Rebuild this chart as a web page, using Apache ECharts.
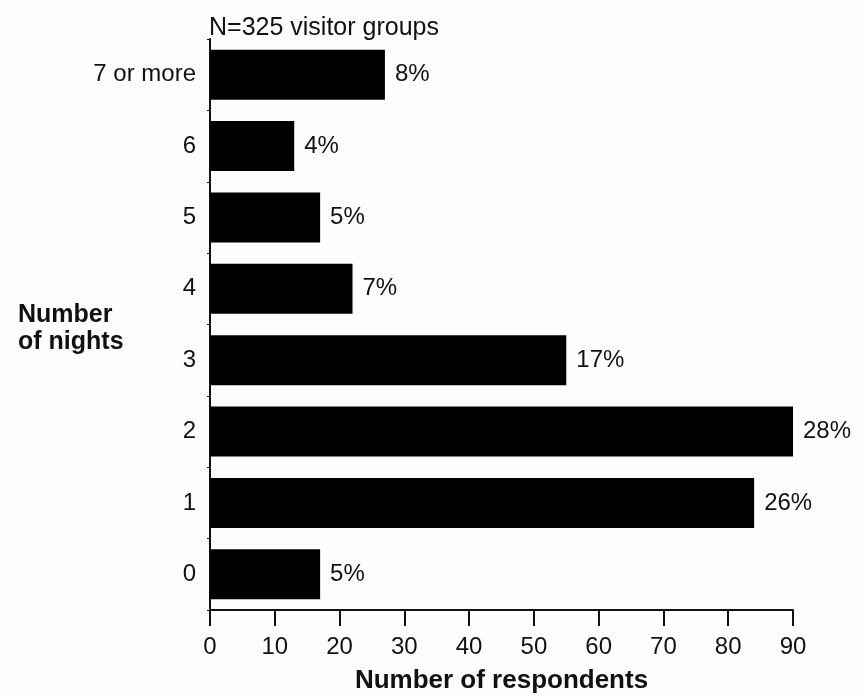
<!DOCTYPE html>
<html>
<head>
<meta charset="utf-8">
<script src="https://cdn.jsdelivr.net/npm/echarts@6/dist/echarts.min.js"></script>
<style>
  html, body { margin: 0; padding: 0; background: #fdfdfd; }
  #chart { width: 866px; height: 699px; }
</style>
</head>
<body>
<div id="chart"></div>
<script>
  // nights per trip, bottom to top
  const nights = ["0", "1", "2", "3", "4", "5", "6", "7 or more"];
  const respondents = [17, 84, 90, 55, 22, 17, 13, 27];
  const percents = ["5%", "26%", "28%", "17%", "7%", "5%", "4%", "8%"];
  const xTicks = [0, 90, 10]; // min, max, interval

  const FONT = "Liberation Sans, Arial, sans-serif";
  const chart = echarts.init(document.getElementById("chart"));

  chart.setOption({
    backgroundColor: "#fdfdfd",
    animation: false,
    title: [
      {
        text: "N=325 visitor groups",
        left: 204, top: 11,
        textStyle: { fontFamily: FONT, fontSize: 25, fontWeight: "normal", color: "#111" }
      },
      {
        text: "Number\nof nights",
        left: 13, top: 297,
        textStyle: { fontFamily: FONT, fontSize: 25, fontWeight: "bold", color: "#111", lineHeight: 27 }
      }
    ],
    grid: { left: 210, right: 73, top: 39, height: 574, containLabel: false },
    xAxis: {
      type: "value",
      min: xTicks[0], max: xTicks[1], interval: xTicks[2],
      name: "Number of respondents",
      nameLocation: "middle",
      nameGap: 58,
      nameTextStyle: { fontFamily: FONT, fontSize: 26, fontWeight: "bold", color: "#111" },
      axisLine: { show: true, lineStyle: { color: "#111", width: 2 } },
      axisTick: { show: true, length: 16, lineStyle: { color: "#111", width: 2 } },
      axisLabel: { fontFamily: FONT, fontSize: 24, color: "#111", margin: 25 },
      splitLine: { show: false }
    },
    yAxis: {
      type: "category",
      data: nights,
      axisLine: { show: true, lineStyle: { color: "#111", width: 2 } },
      axisTick: { show: true, length: 3, lineStyle: { color: "#111" } },
      axisLabel: { fontFamily: FONT, fontSize: 24, color: "#111", margin: 14 }
    },
    series: [{
      type: "bar",
      data: respondents,
      barCategoryGap: "30%",
      itemStyle: { color: "#000" },
      label: {
        show: true,
        position: "right",
        distance: 10,
        fontFamily: FONT, fontSize: 24, color: "#111",
        formatter: p => percents[p.dataIndex]
      }
    }]
  });
</script>
</body>
</html>
